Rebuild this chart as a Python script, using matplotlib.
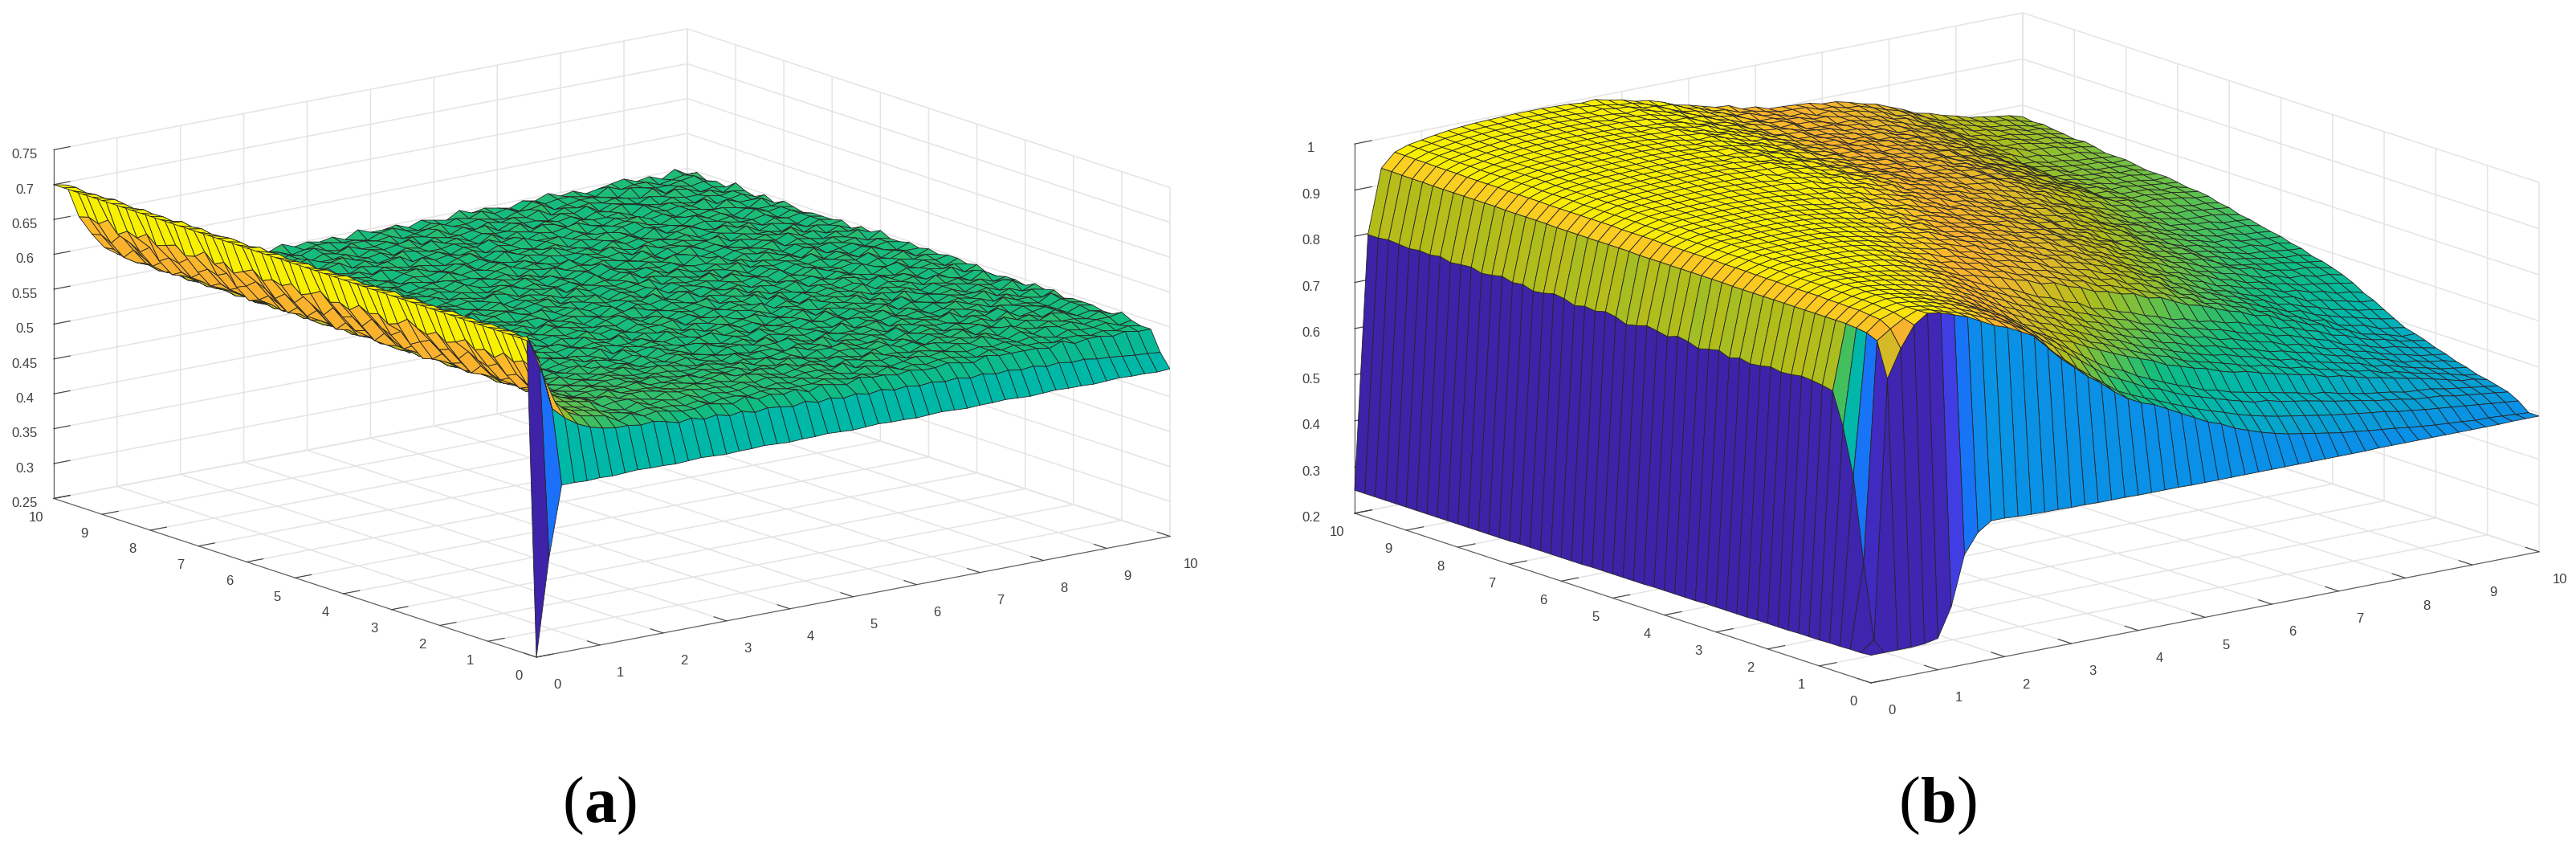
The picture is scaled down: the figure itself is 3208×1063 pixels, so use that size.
import numpy as np
import matplotlib
matplotlib.use("Agg")
import matplotlib.pyplot as plt
from matplotlib.colors import LinearSegmentedColormap
from mpl_toolkits.mplot3d import proj3d

W, H = 3208, 1063
GRID = [i/5 for i in range(51)]          # 0, 0.2 ... 10 on both floor axes
TICKS = list(range(11))
Z_TICKS_A = [.25,.3,.35,.4,.45,.5,.55,.6,.65,.7,.75]
Z_TICKS_B = [.2,.3,.4,.5,.6,.7,.8,.9,1]
Z_LABELS_A = ["0.25","0.3","0.35","0.4","0.45","0.5","0.55","0.6","0.65","0.7","0.75"]
Z_LABELS_B = ["0.2","0.3","0.4","0.5","0.6","0.7","0.8","0.9","1"]

# NOTE: large-scale shape is read off the picture; cell-by-cell bumps are hand-typed
# estimates of the look of the surface, since single cells cannot be read exactly.

# Panel (a) edges, in thousandths
A_X0_HEAD = [250]
A_X0 = 700
A_Y0 = [250,390,490,490,489,490,489,490,491,490,490,489,490,491,490,489,490,490,491,490,489,490,490,491,490,
        489,490,491,490,490,489,490,491,490,489,490,490,491,490,489,490,491,490,490,489,490,491,490,490,489,490]
A_Y02 = [705,665,595,578,566,558,553,550,550,547,549,545,540,543,538,541,536,539,534,537,535,532,536,531,534,
         530,533,529,532,528,530,527,529,526,528,524,527,523,525,522,524,520,522,519,520,517,516,514,512,511,509]
A_X02 = [690,694,696,695,697,694,696,695,697,694,696,695,697,694,698,695,696,694,696,698,695,697,694,697,695,
         694,697,695,698,694,696,697,695,694,697,695,698,694,696,695,697,694,696,698,695,696,694,697,696]   # y=.4..10
A_X04 = [640,643,650,644,652,641,648,643,653,645,640,650,642,647,655,644,639,649,645,652,641,647,643,654,646,
         640,651,644,648,642,653,646,639,650,643,656,645,641,652,647,642,654,644,649,640,656,646,651,647]   # y=.4..10
A_X06 = [596,600,604,610,618,612,624,616,620,628,613,622,617,626,619,611,625,615,621,629,614,623,618,627,612,
         620,630,616,624,613,622,628,617,611,626,619,623,614,629,618,621,612,627,616,624,631,615,622,619]   # y=.4..10
A_X08 = [578,580,584,588,596,590,600,593,597,604,589,599,594,603,591,587,601,592,598,605,590,600,595,602,588,
         596,606,593,601,589,598,604,594,588,602,595,599,591,605,594,597,589,603,592,600,606,591,598,596]   # y=.4..10
# Panel (a) plateau: one character per cell, x=.6..10, rows y=10 down to y=.4
# (the x=.6 and x=.8 cells are replaced by the lists above);
# height = 0.5275 + 0.0035 * base-36 digit
A_ROWS = [
"mjg db965 67546 45756 56475 56465 47565 46575 64567 56474 65654",
"njg db876 54565 76456 65546 75464 65756 47566 54756 64566 46564",
"ljf db967 46655 46575 46656 45675 56546 67456 65476 55674 56543",
"ojg ca856 65746 56465 75564 65746 46565 74656 56547 46565 75454",
"mjg db945 56474 67556 46567 46556 74655 46574 65465 76454 65654",
"kif db856 47565 54675 56465 75646 55746 56465 76546 55647 54565",
"ojh ca965 76546 56746 45765 56547 46576 46556 47565 46565 64553",
"mig db846 55674 65465 67456 46575 64656 75465 46565 74564 65464",
"kjg cb975 46556 75646 54756 56465 75546 46567 56465 47556 45654",
"ljg da846 74565 46576 56546 74655 46756 54675 46556 65474 56543",
"nif db956 45675 56546 75465 64756 56465 76465 54756 46556 65454",
"mjg cb867 56546 75646 56574 65465 75546 56474 65656 47565 46554",
"kig db946 46575 46565 47565 74646 55647 56546 75465 56464 75643",
"ojg ca865 75465 67456 65546 75654 46575 46656 45756 46565 54654",
"mif db946 56474 65565 74656 46557 46564 75565 46574 65465 65453",
"lig cb867 54756 46565 75465 64756 56547 46656 74655 46465 74554",
"njg da945 66546 75646 54657 56465 74656 45756 46565 74656 45643",
"kjf db867 46575 64565 46756 46574 65465 76456 54657 56464 65454",
"mig cb956 65647 46565 76465 56474 65656 47546 65746 54656 46553",
"ojg db874 65465 76546 45657 46565 74646 55746 56465 46575 54644",
"lif ca965 46756 54657 46564 75656 46575 46564 75465 65647 45543",
"njg db875 65646 47565 56746 54656 74654 65746 56474 56465 65454",
"mig db956 74656 45675 46565 74656 46557 46465 65746 46565 46543",
"kjg ca865 66475 56546 75646 55647 46565 75464 65656 47546 55654",
"oig db976 54657 46566 45756 46574 65646 56574 65465 74655 46443",
"mjf db847 56465 75646 56547 46565 74656 46465 75564 65746 45543",
"lig cb967 65746 56475 64656 75465 46574 65656 46475 46565 74554",
"njg db856 47565 46576 54675 46556 74656 45746 56546 74656 45443",
"mif ca975 66546 75656 46575 64656 46574 65465 76454 65646 55653",
"kjg db867 46766 54657 56465 75646 56547 46565 64756 46565 64544",
"oig cb976 56575 66475 46566 74654 65746 46565 74656 45746 45543",
"mjg db887 65476 56565 74656 46575 46465 75656 46564 75464 65454",
"lif db966 76565 47665 56475 64656 75465 46574 65646 56474 55643",
"njg ca987 56476 65746 56565 46756 46574 65656 47546 65645 46544",
"mig db978 76567 56475 66546 75646 55647 46565 74656 46565 64553",
"kjg cb967 87565 76564 75665 46575 64656 46574 65465 56474 65443",
"ojf db978 67686 56575 66475 56465 75546 65746 46565 74646 55454",
"mig db987 76768 67565 76546 65746 56474 65656 45756 46465 64543",
"ljg ca987 97677 86656 75655 46675 46556 74655 46564 75546 45443",
"njg db898 78787 66876 56575 66465 74656 46565 74646 55474 55433",
"mif db989 87887 67766 76565 56756 46565 74655 46574 65465 44543",
"kjg cba98 98787 87667 66757 56466 75564 65646 56474 56465 65432",
"oig dba89 98897 77867 67565 76546 65746 46565 64756 46465 54433",
"mjg dba98 a8887 87678 66767 56565 46756 46574 65465 76454 65433",
"lif ecb9a 89988 78776 87656 76465 75546 65656 47546 55464 55432",
"nhe dcb89 98798 87767 67656 65746 56465 46575 46465 64556 45433",
"jgd cb887 97878 67667 56565 65465 45656 54545 45435 44534 44332",
"hfd cb987 87767 56656 65556 54546 45455 43545 44344 34343 34322",
"gec ba797 87667 65756 56465 46554 54454 35444 43534 43433 33221",
]

# Panel (b) edges, in thousandths
B_X0 = [260,258,258,257,257,256,256,256,255,255,255,255,254,254,254,254,254,253,253,253,253,253,252,252,252,
        252,252,252,251,251,251,251,251,251,251,250,250,250,250,250,250,250,250,250,250,250,250,250,250,250,250]
B_X02 = [260,280,440,620,720,790,795,798,800,796,794,798,793,790,795,788,797,792,786,794,798,790,795,799,792,
         787,796,800,794,797,791,799,802,796,793,800,797,803,798,795,801,799,796,802,798,800,797,799,801,798,798]
B_Y0 = [260,260,260,260,262,268,330,438,480,500,500,498,497,496,496,495,495,494,494,494,493,493,493,493,492,
        492,492,492,492,492,492,492,492,492,492,492,492,492,493,493,493,493,493,493,493,493,493,493,494,494,494]
# Panel (b) top surface in thousandths: x=.4..10, rows y=10 down to y=.2
B_ROWS = [
"936965975980 985989992994995 996997997997996 995994992987982 975967958950942 934926920913908 902899897893890 885880873863853 842830820812805 798792787781775",
"936965975980 985988991993994 996996996996995 994993990986980 974966958949941 933926919912907 901898895891887 883877870860850 838826816808802 795790785779773",
"935964974979 984988991993994 995996996995994 993992989985979 973965956948940 932925918911906 900897893889885 880874866856846 834822812804798 792787782777771",
"935964974979 984987990992993 994995995994993 992990988984978 972964955947938 931924917911905 899896892887882 877870862852842 830819808800795 789785780775769",
"935963973979 983987990992993 994994994994993 991990987983977 971963954946937 930923916910904 899895890885880 874867859849838 826815804797792 787782778773767",
"934963973978 983986989991992 993994994993992 990989986982976 970962953945936 929922915909903 898894889883877 871864855845835 823811800794790 785780776771765",
"934963973978 983986989991992 993993993992991 990988985981975 969961952944935 928921915908902 897893887881875 868861852842831 819807797791787 782778774769763",
"934962972978 982986988990991 992993993992991 989987984980974 968960951943934 927920914907901 896891885879873 865858849838827 815803793788783 780776772767761",
"934962972978 982985988990991 992992992992990 989987984980973 966959951943933 926919913907901 895890884878871 864854846835824 812799787781777 773769766761757",
"934962972978 982985987989990 991992992991990 988986983979972 965958950942932 925918912906900 895889884878870 862852843833821 808795781775770 767765761758755",
"934962972978 982985987989990 991991991991989 988985982978971 964957949941931 924917911905899 893888882876868 860850840830818 805792779773768 765762759756753",
"934961972978 982984987989989 990991991990989 987985982977970 963956948940930 923916910904898 892887881874866 858847837827815 803790777771766 763760757754751",
"933961972978 981984986988989 990990990990988 987984981976969 962955947939929 922915909903897 891885879872864 855845835824813 800788775769764 761758755752749",
"933961971977 981984986988988 989990990989988 986984980975968 961954946938928 921914908902896 889884877870862 853843832822810 798786774767762 759756753750747",
"933961971977 981984986987988 989989989989987 985983980975967 960953945936927 920913907901894 888882876868860 851840830819807 796784772765760 757754751748745",
"933960971977 981983985987988 988989989988987 985983979974966 959952944935926 919912906899893 887881874866858 848838827816804 794782770763758 755752749746743",
"933960971977 981983985986987 988988988988986 984982979973965 958951943934925 918911905898892 885879872864856 846835824813801 791780768761756 753750747744741",
"932960970977 980983985986987 987988988987986 984982978973964 957950942933924 917910904897890 884878870862853 843832821810798 788777766759754 751748745742738",
"932960970977 980983984986986 987987987987985 983981978972963 956949941932923 916909902895889 882876868860851 840829818807795 785775764757752 749746743739733",
"932960970977 980982984985986 986986985984982 980977973968961 955948940931922 914907900893885 878872864856846 836824812800788 778769761753747 743739735731728",
"932960970977 980982983984985 985985984982980 978975971966960 953946939930920 912905897889880 873865858849840 828817805792780 770762754747740 737734731728725",
"932960970977 980981982983984 984984982980978 975972967962956 949942935926916 908901893885876 868860853843834 822811800787775 765757749742735 732729726723719",
"932959970976 979980981982983 983982980978975 972968964958952 945938931922912 904897889881872 864855847838828 816806794782770 760752744737730 727724720717714",
"932959969976 978980981981982 981980979976972 969965960955948 941933926918908 900893885877868 859850842832822 811800788776765 756748739732725 722718715712708",
"932959969975 978979980981981 980979977974970 966961957951944 937929922914904 896889881873864 855845836826816 805794783771760 751743734727720 717713710706703",
"931959969975 977979980980980 979977975972967 963958953947940 932925918910900 892885877869860 850840831820810 799788777766755 746738730722715 711708704701697",
"931958968975 977978979979979 978976973969965 960955949943936 928921914905896 888881873865856 846836826815804 793783772761750 741733725718710 706703699696692",
"931958968974 976977978978978 977975971967962 957951946939932 924917910901892 884877869861852 841831820809798 787777766756745 736728720713705 701698694690686",
"931958968974 976977977977977 975973970965960 954948942936928 920912905897888 880873865857848 837826815803792 782771761750740 732724715708700 696692689685681",
"931958968974 975976977977976 974972968963957 951944939932924 916908901893884 876869861853844 832821809798786 776766755745735 727719710703695 691687683679675",
"931958968974 975976976976975 973970966961955 948941935928920 912904897889880 872865857849840 828816804792780 770760750740730 722714705698690 686682678674670",
"931958967974 975975975975974 972968964958952 945938932925917 909901894885875 867859851842832 820808796784772 762752742732722 714706698690683 678674670665660",
"931957967973 974975975974973 971966961955948 941934928921913 905897889880870 862854845836825 813801789777765 754744734724714 706698690682675 670665660655650",
"931957967973 974974974973971 969964959951944 937930923915907 899891883874864 856848839830819 806794782770758 747736726716706 698690682674666 660654648642636",
"930957966972 973973973972970 967962955947939 932925917909901 893885877868858 850841832823812 800788775763751 739728718708698 690681673665656 649643637631625",
"930956966972 972972971970968 965959951942934 926918910902894 886878870860850 841832823814803 792780768756744 732722712702692 682673664655646 639632626620614",
"930956966971 972971970968966 962955946937928 919911903895887 879871862852842 832822813804793 784772760748737 726716706696686 674665655645635 628620614607600",
"930956965971 971970968966963 958951941932922 912904896888880 871862853843833 823813804795785 776764752740730 720710700690680 667657647637626 617610602595590",
"930955965970 970968966963959 954946937926916 905896888880871 862853844834824 814804795786777 768756745734724 713703693683673 661650640630618 608600593586582",
"930955965970 969967964960955 949943935923910 898885874862850 838826814802790 780770760750740 732724716708700 692684676668660 650640630620610 603596589582575",
"930955965970 969966963958952 946938928916902 888875863850838 825813801789777 767757747737727 720712704696688 680672664656648 638628618608600 593586580574568",
"930955964969 968965961955949 942933921908893 878865852839826 813801788776764 754744734724715 708700692684676 668660652644636 627618608600592 584578572566560",
"930954964969 967963958952945 937927913899883 868854840827814 801788776764752 741731721711702 696688680672664 656648641633625 617609601593585 576570564559553",
"930954963968 966961955948940 930920905889872 856842828815802 789776764752740 729718708699690 684676668660652 645638630622615 608600592585578 570564558552546",
"930953963968 965959952944935 924912896878861 844830816803790 777764752740728 717707697687678 672664656649642 635628620613606 600592585578572 565558552546540",
"930953962967 964958950941932 920906888868851 834819805791778 765752740729717 706696686677668 662654647640633 626619612605599 593586579573567 560553547541536",
"928950960965 962956948940930 918905890870850 830810790770750 735720705692680 668658648638630 624618612606600 594588582576570 566562558554550 546542538534530",
"925948958964 960954945936925 913899882860838 816796774752730 716702688676664 653644635626618 612606600595590 584578573568562 558554550546542 538535531528524",
"915935952964 959950942932920 908894876850820 795770748726704 690678666654642 631621612602594 587581576571566 561557553549546 540537533530527 524521518515512",
"840900945965 960950940925910 900885870840810 785760740715695 680670655640625 610600585575565 557550545540535 530527523520517 513510507505503 500500498496494",
]
# Panel (b) small surface bumps for x=3.2..10, same row order; bump = 0.002*(digit-5)
B_BUMPS = [
"54655 46645 55746 45564 65465 54655 45565",
"65546 54756 46465 56746 46556 65465 54654",
"46565 75465 64756 46375 65647 46565 45546",
"55476 56546 75365 74656 46475 54756 56465",
"46565 64756 46574 65365 75546 65464 65555",
"65654 75465 66483 56574 65465 74656 54654",
"54566 46575 46656 74656 36574 65546 65546",
"46655 74656 35746 56475 64656 46574 56455",
"55746 46565 74656 46365 75564 65746 45654",
"46565 75646 56473 65646 56574 56465 64555",
"65476 54756 46565 74656 35746 46565 55646",
"54665 46475 65746 36565 74656 46574 64555",
"46556 75465 64756 46574 65346 75465 56464",
"65746 46565 74636 56475 64656 46565 74655",
"54656 75346 56574 65746 46465 74656 45546",
"46575 64656 46574 36565 75465 46574 65555",
"65465 76456 54657 46574 65646 56474 56464",
"46756 46574 65646 56374 65465 76454 65655",
"55647 56465 75346 56575 64656 46574 65546",
"64756 46565 74656 45746 36565 74646 55465",
"46565 74646 55647 46565 75346 65747 46555",
"65746 56474 65465 76456 46575 64656 45654",
"46465 75546 65746 46365 74656 45746 56455",
"55746 46565 74656 46574 65346 75465 64565",
"65564 65746 36565 75465 46574 65656 46455",
"46575 46465 75646 56374 65746 46565 74556",
"56465 76454 65656 47346 65746 54656 46465",
"65746 46565 64756 46574 36565 74656 45556",
"46574 65465 76546 45657 46365 74646 55464",
"55647 46575 64656 46574 65465 75346 56555",
"64756 46565 74646 55746 56465 46575 54654",
"46575 46456 65747 46565 75646 56547 46465",
"65646 56474 65465 76456 46575 64656 45555",
"46565 74656 45746 56546 75646 55647 56465",
"55746 46565 74656 46574 65465 46574 65546",
"64656 46574 65646 55746 46565 74656 45455",
"46574 65465 56474 65746 46565 64756 56556",
"55656 46565 74655 46574 65646 56474 56455",
"46565 64756 46574 65465 56474 65746 45546",
"55465 46574 65656 46465 75646 56465 45456",
"46565 46455 56465 46565 46465 56465 46555",
"55465 56465 46565 46465 56465 46565 55456",
"45556 46555 56465 46455 46565 56455 46565",
"55465 55465 46555 46565 46455 56465 55456",
"45556 46555 56456 55465 46555 46465 56545",
"55465 55556 45565 46555 56465 45555 55465",
"55555 46555 55465 55555 46555 55456 55555",
"55555 55465 55555 46555 55555 55456 55555",
"55555 55555 55555 55555 55555 55555 55555",
"55555 55555 55555 55555 55555 55555 55555",
]

PAL_POS = [0, .08, .14, .24, .32, .42, .50, .58, .65, .73, .82, .90, .95, 1]
PAL_COL = ['#3e22a8','#4433d8','#3a4cf0','#1a70f8','#0a90e8','#04a8c8','#00b8a8','#10bc80','#5cc14e',
           '#b4bd1a','#e2b82a','#fbb22e','#fbd51c','#f9f000']
cmap = LinearSegmentedColormap.from_list("surface_map", list(zip(PAL_POS, PAL_COL)))
A_COLOR_Z = [.25, .39, .49, .54, .575, .595, .655, .69, .70]   # height -> colormap position, panel (a)
A_COLOR_P = [0, .24, .50, .58, .66, .88, .91, 1, 1]
B_COLOR_Z = [.25, .80, .93, .965, 1.0]                          # panel (b)
B_COLOR_P = [0, .733, .93, 1, 1]

def fit(row, n, size):
    s = row.replace(" ", "")
    vals = [s[i:i+size] for i in range(0, len(s), size)]
    return (vals + vals[-1:]*n)[:n]

Za = np.full((51, 51), A_X0/1000.0)
Za[0, :] = np.array(A_Y0)/1000
Za[0, 0] = A_X0_HEAD[0]/1000
Za[1, :] = np.array(A_Y02)/1000
for j, row in enumerate(A_ROWS[::-1]):
    Za[2+j, 3:] = [0.5275 + 0.0035*int(c, 36) for c in fit(row, 48, 1)]
Za[2:, 1] = np.array(A_X02)/1000
Za[2:, 2] = np.array(A_X04)/1000
Za[2:, 3] = np.array(A_X06)/1000
Za[2:, 4] = np.array(A_X08)/1000

Zb = np.zeros((51, 51))
Zb[0, :] = np.array(B_Y0)/1000
Zb[:, 0] = np.array(B_X0)/1000
Zb[:, 1] = np.array(B_X02)/1000
for j, row in enumerate(B_ROWS[::-1]):
    Zb[1+j, 2:] = [int(v)/1000 for v in fit(row, 49, 3)]
for j, row in enumerate(B_BUMPS[::-1]):
    Zb[1+j, 16:] += [0.002*(int(c)-5) for c in fit(row, 35, 1)]

fig = plt.figure(figsize=(W/100, H/100), dpi=100)
plt.rcParams['font.family'] = 'Liberation Sans'

def panel(Z, czs, cps, zticks, zlabels, zlim, azim, elev, front, xend, zpad):
    ax = fig.add_axes([0.1, 0.1, 0.3, 0.3*W/H], projection='3d', computed_zorder=False)
    ax.set_proj_type('ortho')
    ax.view_init(elev=elev, azim=azim)
    ax.set_box_aspect((1, 1, 0.452))
    ax.set_xlim(0, 10); ax.set_ylim(0, 10); ax.set_zlim(*zlim)
    X, Y = np.meshgrid(GRID, GRID)
    fc = cmap(np.interp(Z, czs, cps))
    ax.plot_surface(X, Y, Z, facecolors=fc, rstride=1, cstride=1, shade=False,
                    edgecolor='#242424', linewidth=0.6, antialiased=True)
    ax.set_xticks(TICKS); ax.set_yticks(TICKS); ax.set_zticks(zticks)
    ax.set_zticklabels(zlabels)
    for a in (ax.xaxis, ax.yaxis, ax.zaxis):
        a.set_pane_color((1,1,1,0))
        a.pane.set_edgecolor('#e2e2e2')
        a.line.set_color('#5a5a5a')
        a._axinfo['grid'].update(color='#e4e4e4', linewidth=1.1)
        a._axinfo['tick'].update(inward_factor=0.0, outward_factor=0.32)
    ax.tick_params(labelsize=12, colors='#404040')
    ax.tick_params(axis='x', pad=15)
    ax.tick_params(axis='y', pad=7)
    ax.tick_params(axis='z', pad=zpad)
    # layout: scale and shift so that the floor corners land at the reference pixels
    fig.canvas.draw()
    def px(x, y, z):
        u, v, _ = proj3d.proj_transform(x, y, z, ax.get_proj())
        return ax.transData.transform((u, v))
    p0, p1 = px(0, 0, zlim[0]), px(10, 0, zlim[0])
    scale = (xend[0]-front[0])/(p1[0]-p0[0])
    b = ax.get_position()
    S = b.width*W*scale
    ax.set_position([b.x0, b.y0, S/W, S/H])
    fig.canvas.draw()
    p0 = px(0, 0, zlim[0])
    b = ax.get_position()
    ax.set_position([b.x0+(front[0]-p0[0])/W, b.y0+((H-front[1])-p0[1])/H, b.width, b.height])
    return ax

panel(Za, A_COLOR_Z, A_COLOR_P, Z_TICKS_A, Z_LABELS_A, (.25,.75), -127.3, 14.5, (668,818), (1457,668), 6)
panel(Zb, B_COLOR_Z, B_COLOR_P, Z_TICKS_B, Z_LABELS_B, (.2,1.0), -127.7, 14.7, (2330,850), (3162,686), 13)

def caption(cx, letter):
    y = 1 - 1003/H
    t = fig.text(cx/W, y, letter, fontsize=58, family='Liberation Serif', weight='bold', ha='center', va='center')
    r = t.get_window_extent(fig.canvas.get_renderer())
    fig.text(r.x0/W, y, "(", fontsize=58, family='Liberation Serif', ha='right', va='center')
    fig.text(r.x1/W, y, ")", fontsize=58, family='Liberation Serif', ha='left', va='center')
caption(747, "a")
caption(2414, "b")
fig.savefig("out.png", dpi=100)
